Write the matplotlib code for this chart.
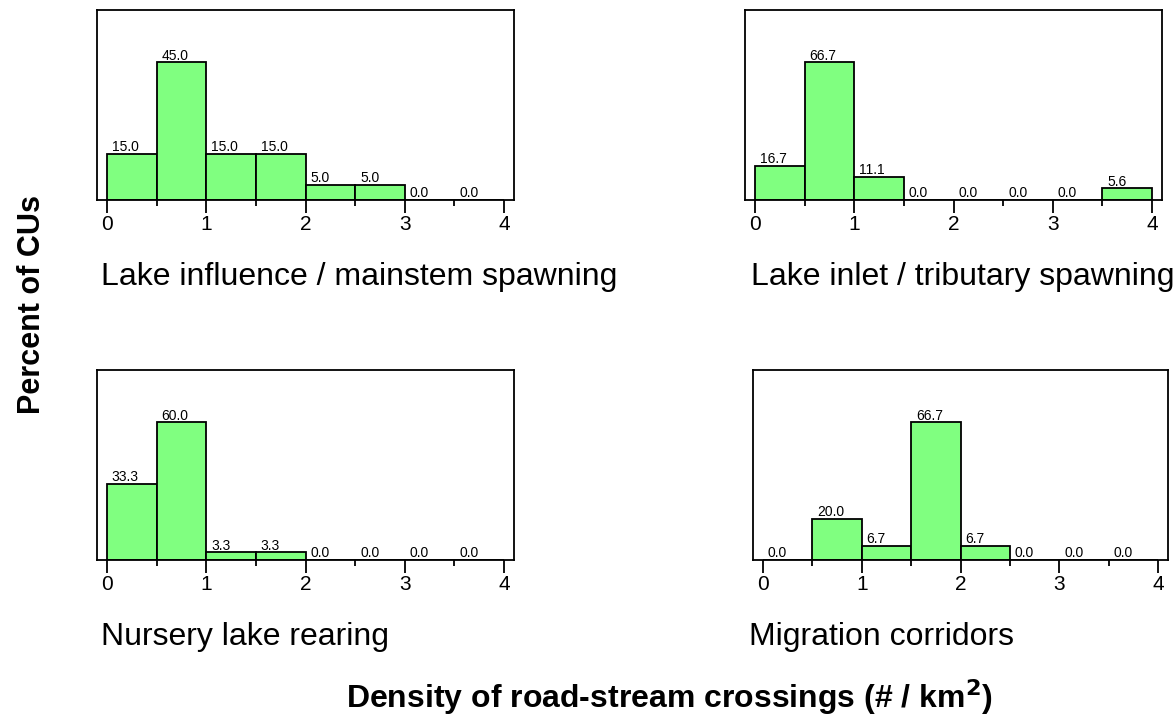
import numpy as np
import matplotlib.pyplot as plt

plt.rcParams['font.family'] = 'Liberation Sans'

# histogram bins (# / km2) and the percent of CUs falling in each
bin_edges = np.arange(0, 4.01, 0.5)
tick_values = [0, 1, 2, 3, 4]
half_ticks = [0.5, 1.5, 2.5, 3.5]

lake_influence = [15.0, 45.0, 15.0, 15.0, 5.0, 5.0, 0.0, 0.0]
lake_inlet = [16.7, 66.7, 11.1, 0.0, 0.0, 0.0, 0.0, 5.6]
nursery_lake = [33.3, 60.0, 3.3, 3.3, 0.0, 0.0, 0.0, 0.0]
migration = [0.0, 20.0, 6.7, 66.7, 6.7, 0.0, 0.0, 0.0]

panel_titles = ['Lake influence / mainstem spawning',
                'Lake inlet / tributary spawning',
                'Nursery lake rearing',
                'Migration corridors']

W, H = 1176, 717
fig = plt.figure(figsize=(W / 100, H / 100), dpi=100)


def px_axes(left, top, width, height):
    return fig.add_axes([left / W, 1 - (top + height) / H, width / W, height / H])


# (values, axes box in pixels, title x, title baseline y)
panels = [
    (lake_influence, (97, 10, 417, 190), 101, 285),
    (lake_inlet, (745, 10, 417, 190), 751, 285),
    (nursery_lake, (97, 370, 417, 190), 101, 645),
    (migration, (753, 370, 415, 190), 749, 645),
]

for (values, box, tx, ty), title in zip(panels, panel_titles):
    ax = px_axes(*box)
    ax.bar(bin_edges[:-1], values, width=0.5, align='edge',
           color='#80ff80', edgecolor='black', linewidth=1.3)
    for left, v in zip(bin_edges[:-1], values):
        ax.annotate(f'{v:.1f}', (left, v), xytext=(3.5, 2),
                    textcoords='offset points', ha='left', va='baseline',
                    fontsize=10)
    ax.set_xlim(-0.1, 4.1)
    ax.set_ylim(0, max(values) * 1.38)
    ax.set_yticks([])
    ax.set_xticks(tick_values)
    ax.set_xticks(half_ticks, minor=True)
    ax.tick_params(axis='x', which='major', length=9.5, width=1.3,
                   labelsize=15, pad=1)
    ax.tick_params(axis='x', which='minor', length=4.3, width=1.3)
    for s in ax.spines.values():
        s.set_linewidth(1.3)
    fig.text(tx / W, 1 - ty / H, title, fontsize=23, ha='left', va='baseline')

fig.text(32 / W, 1 - 304 / H, 'Percent of CUs', fontsize=22, fontweight='bold',
         rotation=90, ha='center', va='center')
fig.text(669 / W, 1 - 708 / H, 'Density of road-stream crossings (# / km$^\\mathbf{2}$)',
         fontsize=23, fontweight='bold', ha='center', va='baseline')

fig.savefig('out.png', dpi=100)
